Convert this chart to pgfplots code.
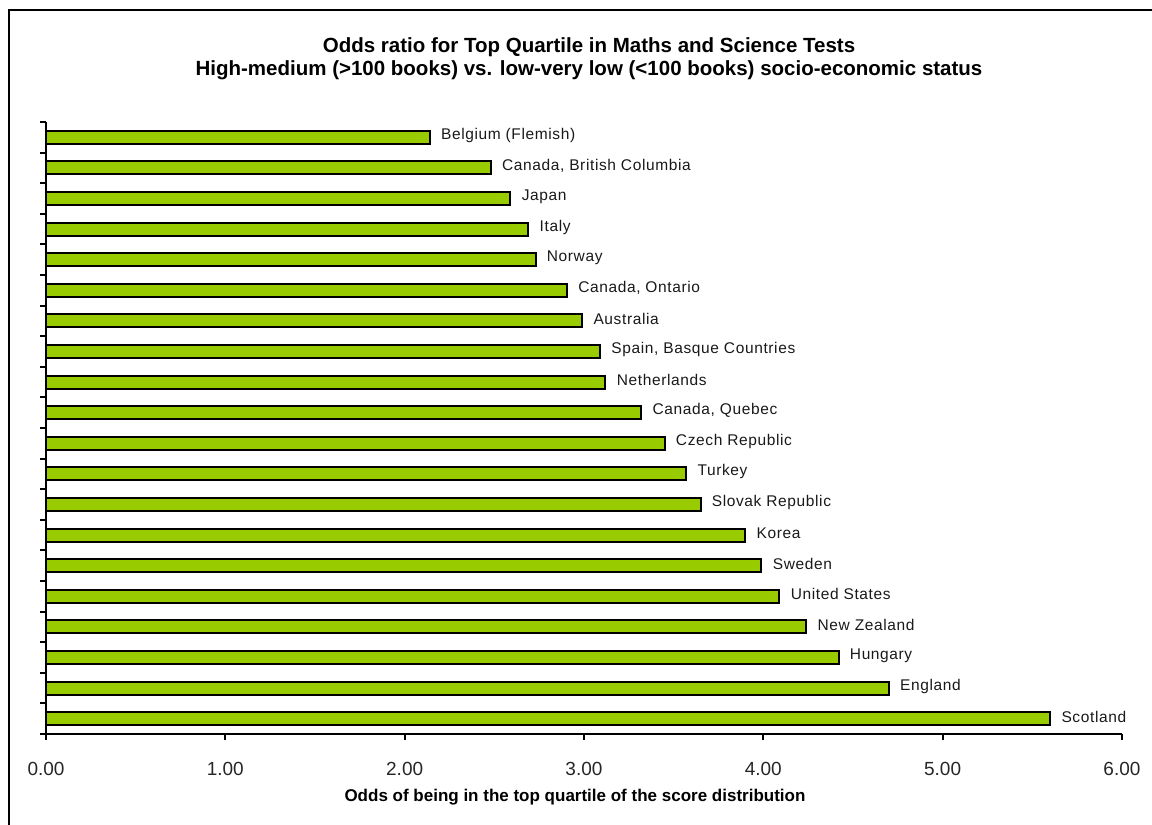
\documentclass[border=0pt]{standalone}
\usepackage{pgfplots}
\pgfplotsset{compat=1.18}
\usepackage{pgfplotstable}
\usepackage{fontspec}
\setmainfont{Liberation Sans}
\definecolor{barlime}{RGB}{153,204,0}

% Odds ratio for each country, listed top to bottom
\pgfplotstableread[col sep=semicolon]{
idx;odds;name
0;2.14;Belgium (Flemish)
1;2.48;Canada, British Columbia
2;2.59;Japan
3;2.69;Italy
4;2.73;Norway
5;2.905;Canada, Ontario
6;2.99;Australia
7;3.09;Spain, Basque Countries
8;3.12;Netherlands
9;3.32;Canada, Quebec
10;3.45;Czech Republic
11;3.57;Turkey
12;3.65;Slovak Republic
13;3.90;Korea
14;3.99;Sweden
15;4.09;United States
16;4.24;New Zealand
17;4.42;Hungary
18;4.70;England
19;5.60;Scotland
}\datatable

\begin{document}
\begin{tikzpicture}[x=1pt,y=1pt]
\path[use as bounding box] (0,0) rectangle (1152,-825);
% outer frame
\draw[line width=2pt] (9,-825) -- (9,-10) -- (1152,-10);
% title
\node[font=\fontsize{20.5}{23}\selectfont\bfseries, align=center] at (589,-59)
  {Odds ratio for Top Quartile in Maths and Science Tests\\
   High-medium (>100 books) vs. low-very low (<100 books) socio-economic status};
\begin{axis}[
  at={(46pt,-734pt)}, anchor=south west,
  scale only axis, width=1076pt, height=612pt,
  xmin=0, xmax=6, ymin=-0.5, ymax=19.5,
  y dir=reverse,
  axis x line=bottom, axis y line=left,
  axis line style={-, line width=2pt},
  xtick={0,1,2,3,4,5,6},
  xticklabel={\pgfmathprintnumber[fixed,fixed zerofill,precision=2]{\tick}},
  /pgf/number format/assume math mode=true,
  ytick={-0.5,0.5,...,19.5}, yticklabels={},
  tick align=outside, major tick length=6pt,
  tick style={line width=2pt, black},
  ticklabel style={font=\fontsize{19}{22}\selectfont, color=black!85},
  xticklabel style={yshift=-19pt},
  xlabel={Odds of being in the top quartile of the score distribution},
  xlabel style={font=\fontsize{17}{20}\selectfont\bfseries, yshift=-6pt, xshift=-9pt},
  clip=false,
]
\addplot[xbar, fill=barlime, draw=black, line width=2pt, bar width=13pt,
  nodes near coords, point meta=explicit symbolic,
  nodes near coords style={anchor=west, xshift=7pt, yshift=2pt,
    font=\fontsize{15.5}{18}\selectfont\addfontfeatures{LetterSpace=4}, color=black!90}]
  table[x=odds, y=idx, meta=name] {\datatable};
\end{axis}
\end{tikzpicture}
\end{document}
